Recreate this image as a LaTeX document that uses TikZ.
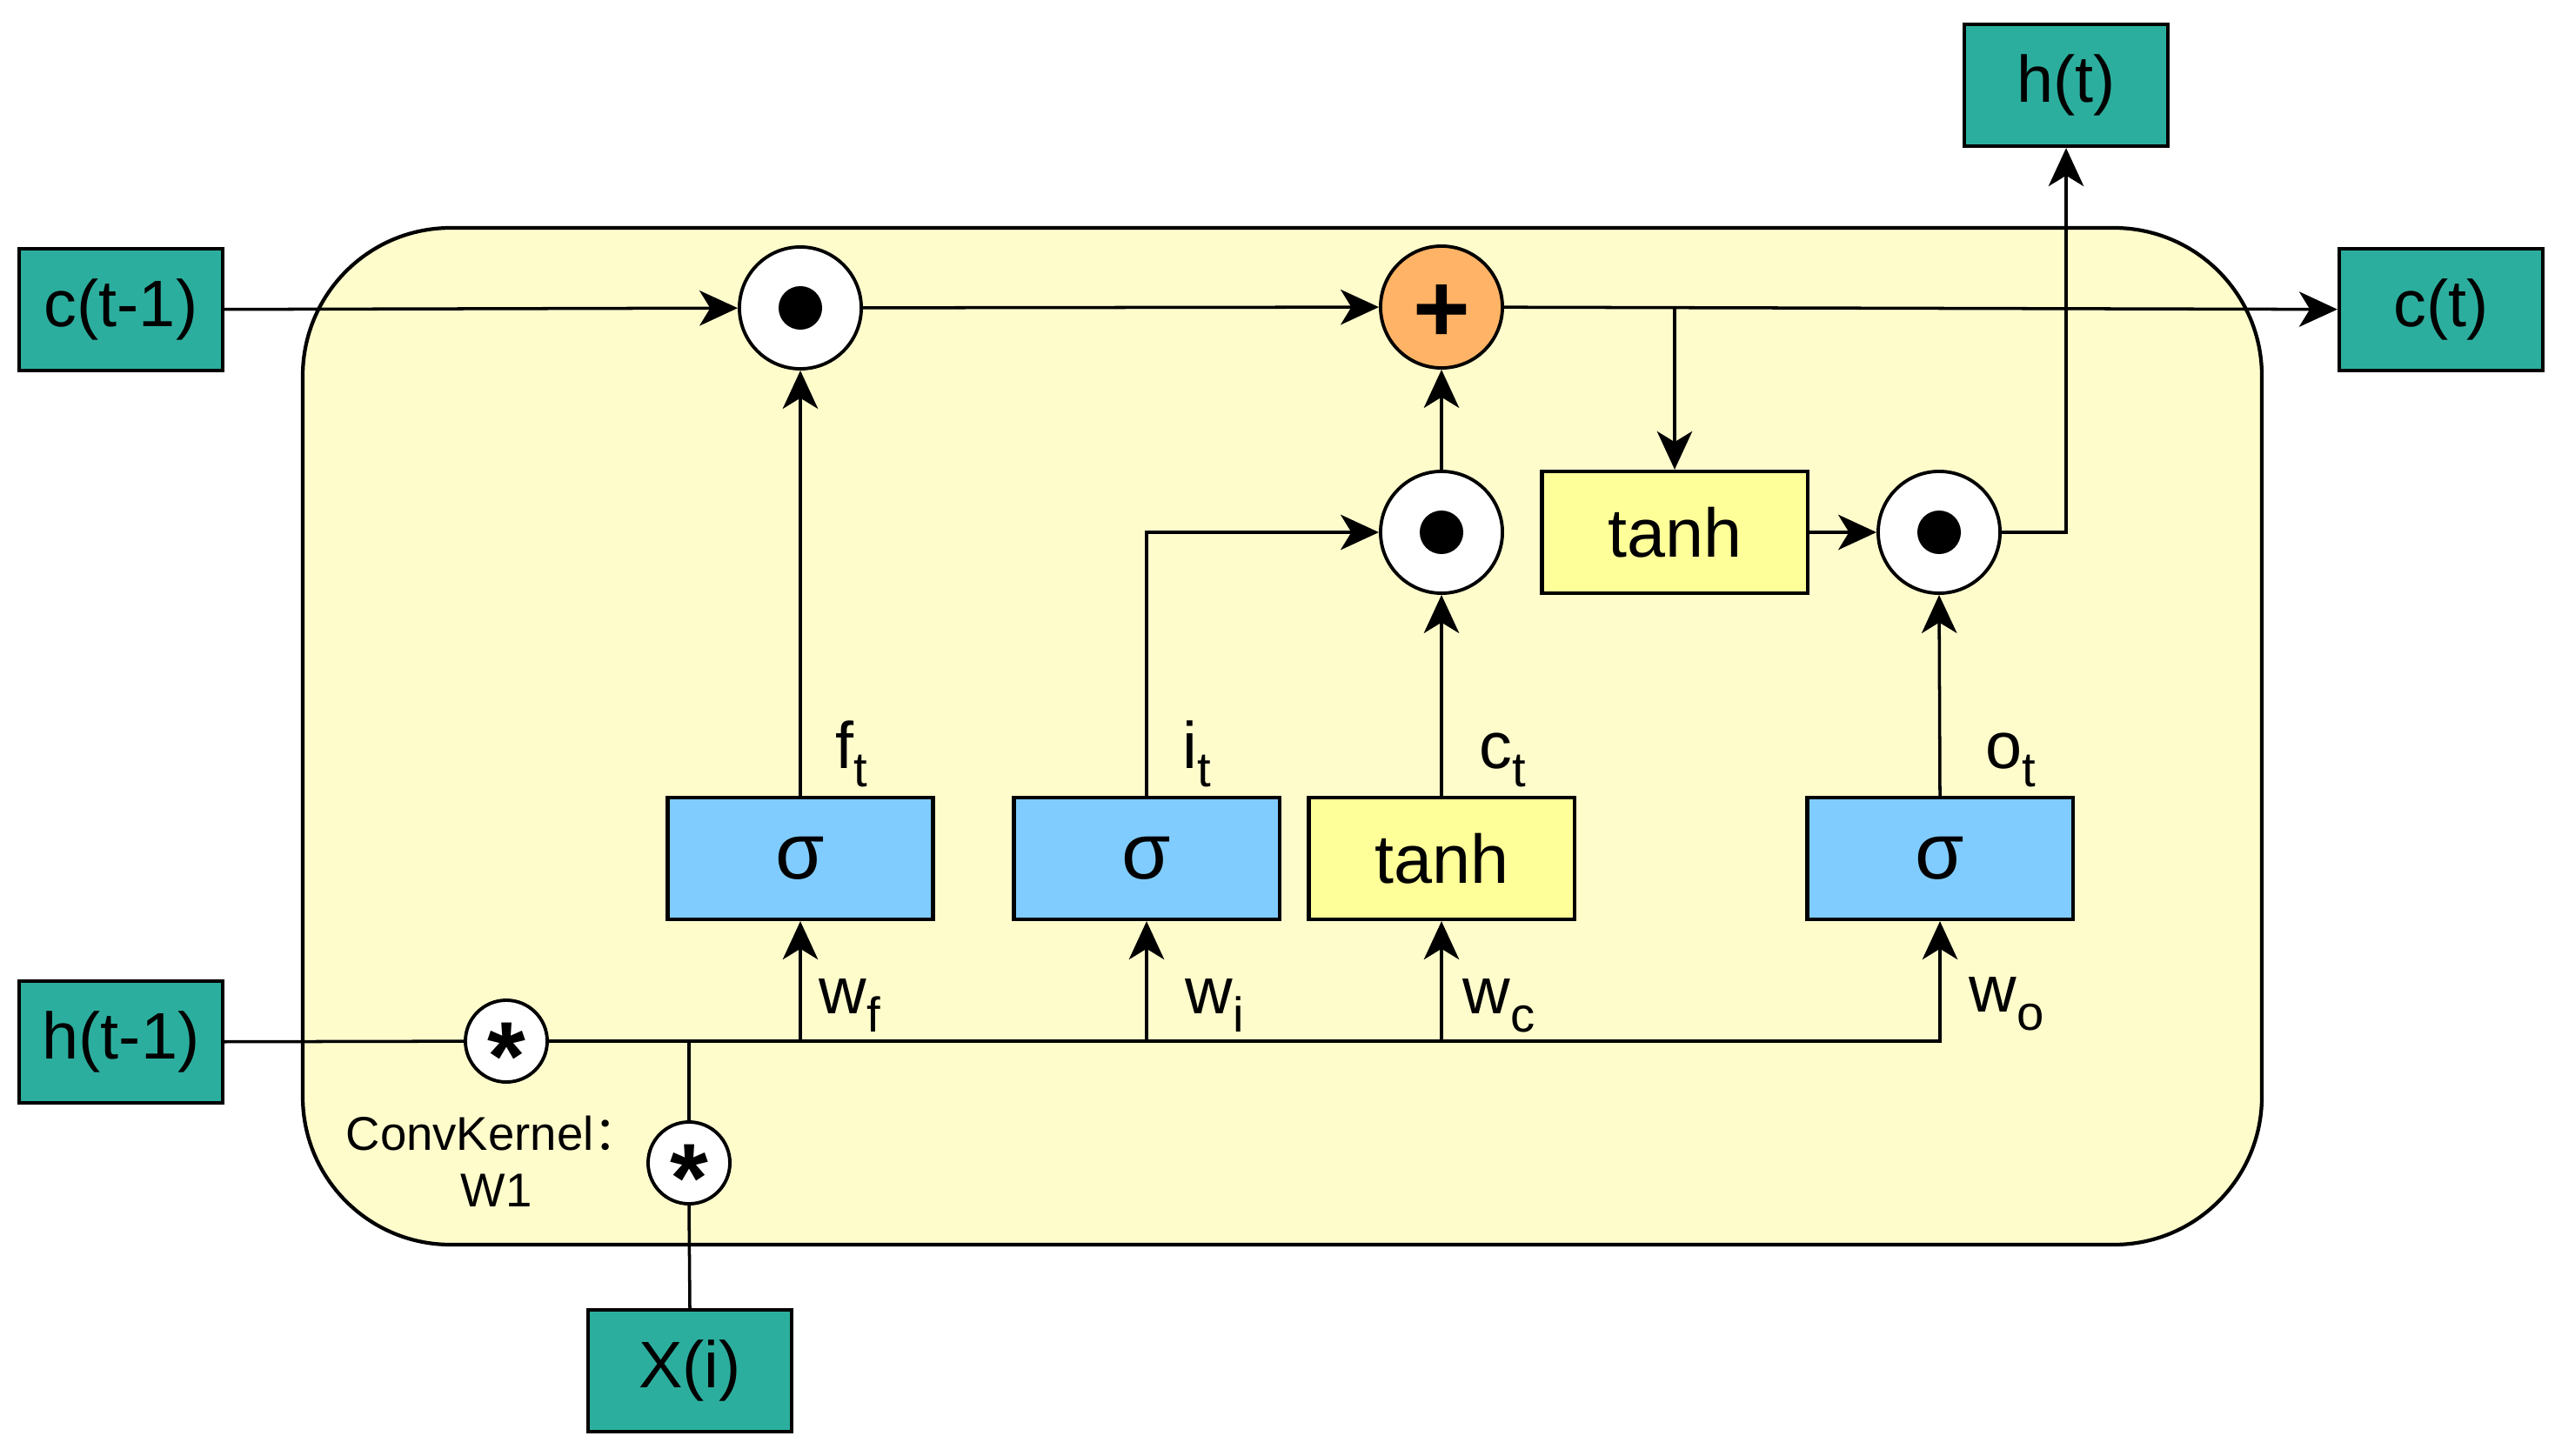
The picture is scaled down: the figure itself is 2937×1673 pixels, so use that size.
\documentclass[tikz,border=0pt]{standalone}
\usepackage{fontspec}
\setmainfont{Liberation Sans}
\newfontfamily\cjkfont{Noto Sans CJK SC}
\usetikzlibrary{arrows.meta}
\definecolor{tealc}{RGB}{44,174,158}
\definecolor{bgc}{RGB}{255,252,204}
\definecolor{yelc}{RGB}{255,255,153}
\definecolor{bluec}{RGB}{128,204,255}
\definecolor{orac}{RGB}{255,179,102}
\newcommand\lsub[1]{\raisebox{-6pt}{\fontsize{16}{16}\selectfont #1}}
\begin{document}
\begin{tikzpicture}[x=0.01cm,y=-0.01cm,
  mainfont/.style={font=\fontsize{21.5}{21.5}\selectfont},
  io/.style={draw, line width=1.2pt, fill=tealc, minimum width=2.34cm, minimum height=1.40cm, inner sep=0pt, mainfont},
  gatebox/.style={draw, line width=1.2pt, minimum width=3.05cm, minimum height=1.40cm, inner sep=0pt},
  sigbox/.style={gatebox, fill=bluec, font=\fontsize{26}{26}\selectfont},
  tanhbox/.style={gatebox, fill=yelc, font=\fontsize{22.5}{22.5}\selectfont},
  opc/.style={circle, draw, line width=1.1pt, fill=white, minimum size=1.40cm, inner sep=0pt},
  convc/.style={circle, draw, line width=1.1pt, fill=white, minimum size=0.94cm, inner sep=0pt},
  ln/.style={line width=1pt},
  arr/.style={line width=1pt, -{Stealth[length=12.5pt,width=11.5pt,inset=3.5pt]}},
  lab/.style={anchor=base west, inner sep=0pt, mainfont}
]
\useasboundingbox (0,0) rectangle (2937,1673);
% cell background
\draw[line width=1.2pt, fill=bgc, rounded corners=1.7cm] (348,262) rectangle (2600,1431);

% inputs / outputs
\node[io] (ct1) at (139,356) {c(t-1)};
\node[io] (ht1) at (139,1198) {h(t-1)};
\node[io] (ct) at (2806,356) {c(t)};
\node[io] (ht) at (2375,98) {h(t)};
\node[io] (xi) at (793,1576) {X(i)};

% operators
\node[opc] (mul1) at (920,354) {};
\node[opc, fill=orac, font=\fontsize{32}{32}\selectfont\bfseries] (add) at (1657,353) {\raisebox{-0.36em}[0pt][0pt]{+}};
\node[opc] (mul2) at (1657,612) {};
\node[opc] (mul3) at (2229,612) {};
\fill (mul1.center) circle[radius=0.25cm];
\fill (mul2.center) circle[radius=0.25cm];
\fill (mul3.center) circle[radius=0.25cm];
\node[convc, font=\fontsize{32}{32}\selectfont\bfseries] (conv1) at (582,1197) {\raisebox{-0.5em}[0pt][0pt]{*}};
\node[convc, font=\fontsize{32}{32}\selectfont\bfseries] (conv2) at (792,1337) {\raisebox{-0.5em}[0pt][0pt]{*}};

% gates
\node[sigbox] (sig1) at (920,987) {σ};
\node[sigbox] (sig2) at (1318,987) {σ};
\node[tanhbox] (tanhL) at (1657,987) {tanh};
\node[sigbox] (sig3) at (2230,987) {σ};
\node[tanhbox] (tanhU) at (1925,612) {tanh};

% cell state path
\draw[arr] (ct1) -- (mul1);
\draw[arr] (mul1) -- (add);
\draw[arr] (add) -- (ct);
\coordinate (br) at (1925,353);
\draw[arr] (br) -- (tanhU.north);
\draw[arr] (tanhU) -- (mul3);
\draw[arr] (mul3.east) -| (ht.south);

% gate outputs
\draw[arr] (sig1.north) -- (mul1.south);
\draw[arr] (sig2.north) |- (mul2.west);
\draw[arr] (tanhL.north) -- (mul2.south);
\draw[arr] (mul2.north) -- (add.south);
\draw[arr] (sig3.north) -- (mul3.south);

% hidden input path
\draw[ln] (ht1) -- (conv1);
\draw[arr] (conv1) -| (sig3.south);
\draw[arr] (sig1.south |- conv1) -- (sig1.south);
\draw[arr] (sig2.south |- conv1) -- (sig2.south);
\draw[arr] (tanhL.south |- conv1) -- (tanhL.south);
\draw[ln] (conv2.north) -- (conv2 |- conv1);
\draw[ln] (conv2.south) -- (xi.north);

% labels
\node[lab] (lft) at (960,883) {f\lsub{t}};
\node[lab] (lit) at (1359,883) {i\lsub{t}};
\node[lab] (lct) at (1700,883) {c\lsub{t}};
\node[lab] (lot) at (2282,883) {o\lsub{t}};
\node[lab] (lwf) at (941,1165) {w\lsub{f}};
\node[lab] (lwi) at (1362,1165) {w\lsub{i}};
\node[lab] (lwc) at (1681,1165) {w\lsub{c}};
\node[lab] (lwo) at (2263,1163) {w\lsub{o}};
\node[anchor=base west, inner sep=0pt, font=\fontsize{15.5}{15.5}\selectfont] (ck) at (397,1322) {ConvKernel{\cjkfont ：}};
\node[anchor=base west, inner sep=0pt, font=\fontsize{15.5}{15.5}\selectfont] (w1) at (529,1387) {W1};
\end{tikzpicture}
\end{document}
